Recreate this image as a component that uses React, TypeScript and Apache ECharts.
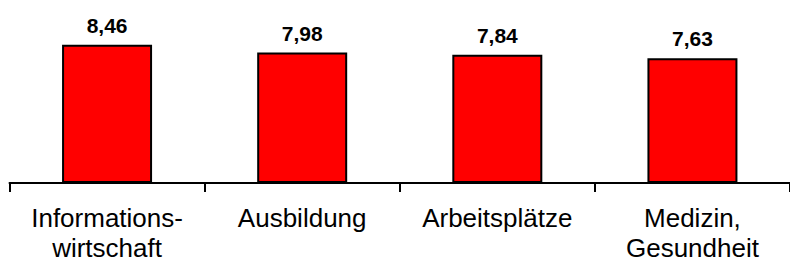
import React, { useEffect, useRef } from "react";
import * as echarts from "echarts";

const categories = ["Informations-\nwirtschaft", "Ausbildung", "Arbeitsplätze", "Medizin,\nGesundheit"];
const values = [8.46, 7.98, 7.84, 7.63];

export default function App() {
  const ref = useRef<HTMLDivElement>(null);
  useEffect(() => {
    if (!ref.current) return;
    const chart = echarts.init(ref.current, null, { renderer: "svg" });
    const font = "'Liberation Sans', Arial, sans-serif";
    chart.setOption({
      animation: false,
      backgroundColor: "#ffffff",
      grid: { left: 9.5, width: 782, top: 19.5, height: 163.5, containLabel: false },
      xAxis: {
        type: "category",
        data: categories,
        axisLine: { show: true, lineStyle: { color: "#000", width: 2 } },
        axisTick: { show: true, length: 9, lineStyle: { color: "#000", width: 2 } },
        axisLabel: {
          color: "#000",
          fontFamily: font,
          fontSize: 26,
          lineHeight: 30,
          margin: 20,
          interval: 0,
        },
      },
      yAxis: {
        type: "value",
        min: 0,
        max: 10,
        show: false,
        splitLine: { show: false },
      },
      series: [
        {
          type: "bar",
          data: values,
          barWidth: 90,
          itemStyle: { color: "#ff0000", borderColor: "#000", borderWidth: 2 },
          label: {
            show: true,
            position: "top",
            distance: 9,
            color: "#000",
            fontFamily: font,
            fontWeight: "bold",
            fontSize: 21,
            formatter: (p: any) => Number(p.value).toFixed(2).replace(".", ","),
          },
        },
      ],
    });
    return () => chart.dispose();
  }, []);
  return <div ref={ref} style={{ position: "fixed", left: 0, top: 0, width: 790, height: 264 }} />;
}
